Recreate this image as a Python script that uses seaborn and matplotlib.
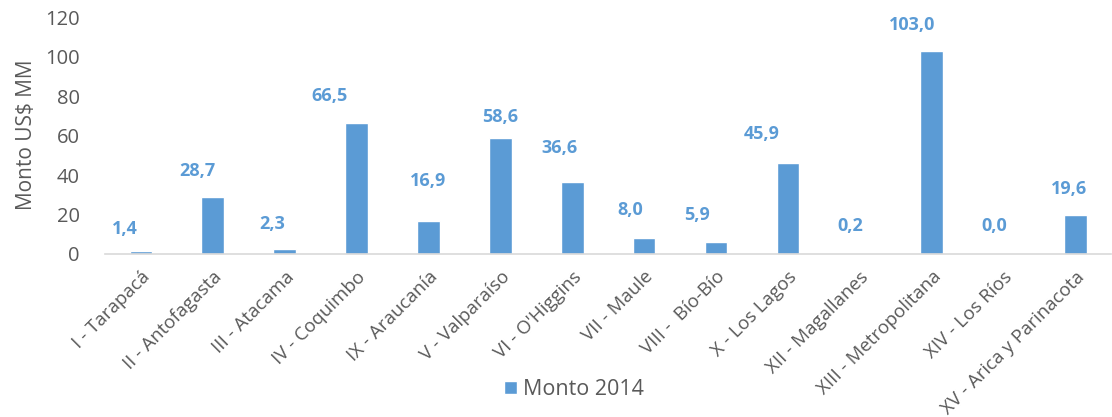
import numpy as np
import pandas as pd
import seaborn as sns
from matplotlib import pyplot as plt

regiones = ["I - Tarapacá", "II - Antofagasta", "III - Atacama", "IV - Coquimbo",
            "IX - Araucanía", "V - Valparaíso", "VI - O'Higgins", "VII - Maule",
            "VIII -  Bío-Bío", "X - Los Lagos", "XII - Magallanes",
            "XIII - Metropolitana", "XIV - Los Ríos", "XV - Arica y Parinacota"]
monto_2014 = [1.4, 28.7, 2.3, 66.5, 16.9, 58.6, 36.6, 8.0, 5.9, 45.9, 0.2, 103.0, 0.0, 19.6]

# desplazamiento (px) de cada etiqueta respecto al tope de su barra, como en el original
label_dx = [-16, -15, -12, -27, 0, 0, -13, -14, -19, -26, -9, -20, -9, -6]
label_dy = [13, 17, 16, 18, 31, 12, 25, 19, 18, 20, 19, 17, 19, 17]

df = pd.DataFrame({"Region": regiones, "Monto": monto_2014})

sns.set_style("white")
plt.rcParams['font.family'] = ['Open Sans', 'DejaVu Sans']

azul = "#5B9BD5"
gris = "#595959"

fig = plt.figure(figsize=(11.12, 4.17), dpi=100)
ax = fig.add_axes([0.0944, 0.391, 0.905, 0.568])

sns.barplot(data=df, x="Region", y="Monto", color=azul, width=0.315,
            saturation=1, ax=ax, label="Monto 2014")

px = 72 / fig.dpi
for i, v in enumerate(monto_2014):
    txt = f"{v:.1f}".replace(".", ",")
    ax.annotate(txt, (i, v), xytext=(label_dx[i] * px, label_dy[i] * px),
                textcoords="offset points", ha="center", va="bottom",
                color=azul, fontsize=13, fontweight="bold")

ax.set_ylim(0, 120)
ax.set_xlim(-0.5, len(regiones) - 0.5)
ax.set_yticks(range(0, 121, 20))
ax.set_ylabel("Monto US$ MM", fontsize=15, color=gris)
ax.yaxis.set_label_coords(-0.068, 0.505)
ax.set_xlabel("")
ax.tick_params(axis="y", labelsize=14.5, labelcolor=gris, length=0, pad=18)
ax.tick_params(axis="x", labelsize=13.5, labelcolor=gris, length=0, pad=10)
plt.setp(ax.get_xticklabels(), rotation=45, ha="right", rotation_mode="anchor")

sns.despine(ax=ax, left=True)
ax.spines["bottom"].set_color("#D9D9D9")
ax.spines["bottom"].set_linewidth(1.2)

ax.legend(loc="center", bbox_to_anchor=(0.516, 0.066), bbox_transform=fig.transFigure,
          frameon=False, fontsize=15.5, handlelength=0.6, handleheight=0.6,
          handletextpad=0.3, labelcolor=gris)

fig.savefig("out.png", dpi=100)
